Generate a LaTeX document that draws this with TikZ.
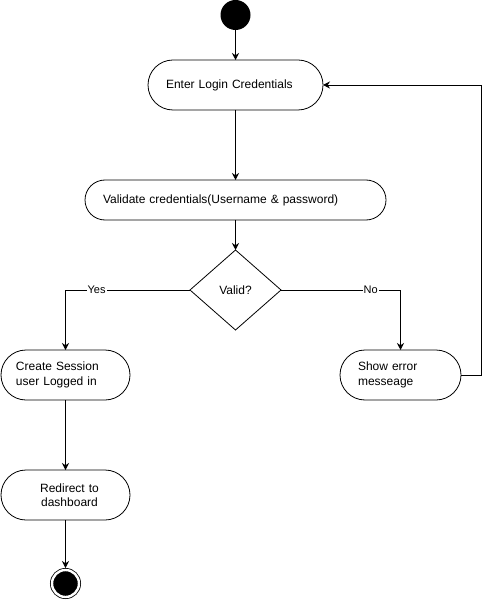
\documentclass[tikz,border=0pt]{standalone}
\usepackage{fontspec}
\setmainfont{Liberation Sans}
\usetikzlibrary{positioning,shapes.geometric,arrows.meta}

\begin{document}
\begin{tikzpicture}[
  x=1pt, y=1pt,
  font=\fontsize{12}{14.5}\selectfont,
  line width=0.8pt,
  every node/.style={outer sep=0pt},
  activity/.style={draw, rounded corners=25pt, minimum height=50pt, inner xsep=18pt, align=left},
  decision/.style={draw, diamond, minimum width=91pt, minimum height=80pt, inner sep=0pt},
  initial/.style={circle, fill=black, minimum size=30pt, inner sep=0pt},
  final/.style={circle, fill=black, draw=black, double=white, double distance=2.4pt, minimum size=27pt, inner sep=0pt, outer sep=2pt},
  flow/.style={-{Stealth[length=7pt,width=7pt]}},
  guard/.style={fill=white, inner sep=1pt, font=\fontsize{11}{13}\selectfont}
]
  \useasboundingbox (0,0) rectangle (489,-601);

  \node (start) [initial] at (235.5,-15) {};

  \node (enter) [below=30pt of start, activity, text width=139pt] {Enter Login Credentials};
  \node (validate) [below=70pt of enter, activity, rounded corners=20pt, minimum height=40pt, text width=265pt] {Validate credentials(Username \& password)};
  \node (valid) [below=30pt of validate, decision] {Valid?};

  \node (session) [below=20pt of valid, xshift=-170pt, activity, inner xsep=15pt, text width=99pt] {Create Session\\user Logged in};
  \node (error) [below=20pt of valid, xshift=165pt, activity, text width=85pt] {Show error\\messeage};

  \node (redirect) [below=70pt of session, activity, align=center, text width=93pt] {\hspace*{8pt}Redirect to\\\hspace*{8pt}dashboard};
  \node (finish) [below=48pt of redirect, final] {};

  \draw [flow] (start) -- (enter);
  \draw [flow] (enter) -- (validate);
  \draw [flow] (validate) -- (valid);
  \draw [flow] (valid.west) -| node [guard, pos=0.375] {Yes} (session.north);
  \draw [flow] (valid.east) -| node [guard, pos=0.375] {No} (error.north);
  \draw [flow] (session) -- (redirect);
  \draw [flow] (redirect) -- (finish);
  \draw [flow] (error.east) -- ++(20pt,0) |- (enter.east);

\end{tikzpicture}
\end{document}
